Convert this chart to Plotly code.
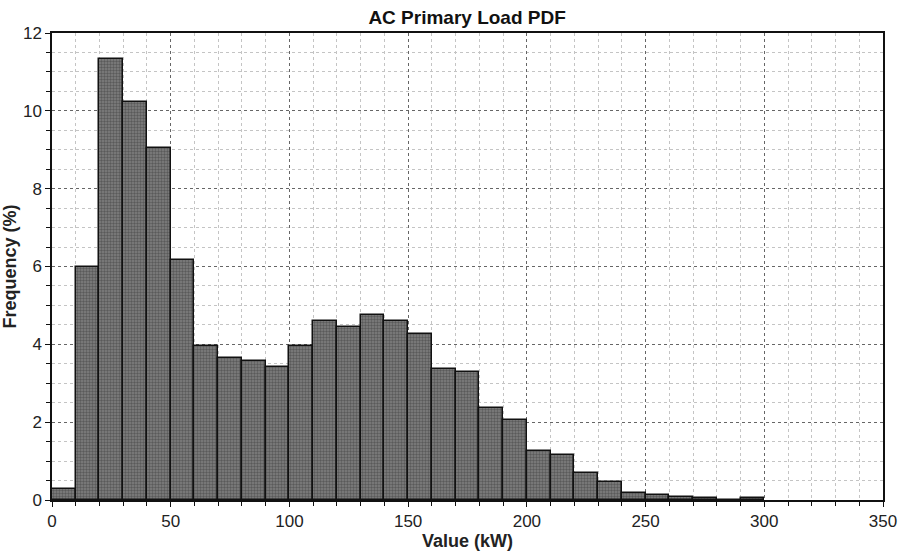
import plotly.graph_objects as go

bin_left = [0, 10, 20, 30, 40, 50, 60, 70, 80, 90, 100, 110, 120, 130, 140,
            150, 160, 170, 180, 190, 200, 210, 220, 230, 240, 250, 260, 270, 280, 290]
frequency = [0.28, 6.0, 11.34, 10.22, 9.04, 6.17, 3.95, 3.65, 3.57, 3.42, 3.95, 4.61, 4.44, 4.75, 4.6,
             4.27, 3.37, 3.28, 2.37, 2.06, 1.27, 1.15, 0.70, 0.47, 0.17, 0.12, 0.07, 0.04, 0.0, 0.04]
bin_width = 10

title_text = "AC Primary Load PDF"
x_title = "Value (kW)"
y_title = "Frequency (%)"

FONT = "Liberation Sans, Arial, sans-serif"

fig = go.Figure()
fig.add_trace(go.Bar(
    x=bin_left, y=frequency, width=bin_width, offset=0,
    marker=dict(color="#606060", line=dict(color="#111111", width=1.5),
                pattern=dict(shape=".", fgcolor="#333333", bgcolor="#808080", size=3, solidity=0.5)),
    showlegend=False,
))

axis_common = dict(
    showline=True, linecolor="#111111", linewidth=1.5, mirror=True,
    ticks="outside", ticklen=5, tickcolor="#111111", tickwidth=1.2,
    showgrid=True, gridcolor="#666666", griddash="dot", gridwidth=1,
    zeroline=False, automargin=False,
    tickfont=dict(family=FONT, size=17, color="#222222"),
)

fig.update_xaxes(
    range=[0, 350], dtick=50, tick0=0,
    minor=dict(dtick=10, showgrid=True, gridcolor="#c4c4c4", griddash="dot",
               ticks="outside", ticklen=4, tickcolor="#111111"),
    title=dict(text=f"<b>{x_title}</b>", standoff=0,
               font=dict(family=FONT, size=18, color="#222222")),
    **axis_common,
)
fig.update_yaxes(
    range=[0, 12], dtick=2, tick0=0,
    minor=dict(dtick=0.5, showgrid=True, gridcolor="#c4c4c4", griddash="dot",
               ticks="outside", ticklen=4, tickcolor="#111111"),
    title=dict(text=f"<b>{y_title}</b>", standoff=2,
               font=dict(family=FONT, size=18, color="#222222")),
    **axis_common,
)

fig.update_layout(
    width=900, height=553,
    margin=dict(l=52, r=17, t=33, b=53),
    paper_bgcolor="white", plot_bgcolor="white",
    bargap=0,
    title=dict(text=f"<b>{title_text}</b>", x=0.519, xanchor="center", y=0.968, yanchor="middle",
               font=dict(family=FONT, size=19, color="#111111")),
)

fig.write_html("out.html")
